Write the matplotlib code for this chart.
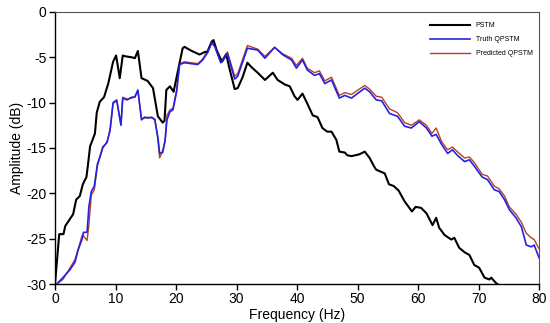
import numpy as np
import matplotlib.pyplot as plt

plt.rcParams['font.family'] = ['Liberation Sans', 'DejaVu Sans']
plt.rcParams['axes.unicode_minus'] = False

# PSTM (black)
pstm_f = [0, 0.7, 1.4, 1.7, 2.3, 3.0, 3.5, 4.1, 4.6, 5.2, 5.6, 5.8, 6.1, 6.6, 6.9,
          7.4, 8.1, 8.8, 9.6, 10.1, 10.7, 11.2, 11.7, 12.7, 13.2, 13.7, 14.3, 15.3,
          16.2, 17.0, 17.8, 18.1, 18.4, 19.0, 19.6, 21.1, 21.4, 22.6, 23.9, 24.8,
          25.2, 25.9, 26.2, 26.7, 27.6, 28.3, 28.9, 29.7, 30.2, 31.0, 31.8, 32.5,
          33.5, 34.7, 36.0, 36.8, 38.0, 38.8, 39.6, 40.1, 40.9, 41.7, 42.6, 43.4,
          44.2, 45.0, 45.7, 46.5, 47.0, 47.9, 48.3, 49.0, 50.3, 51.2, 52.0, 52.8,
          53.1, 54.5, 55.2, 56.0, 56.8, 57.8, 59.0, 59.6, 60.5, 61.4, 62.4, 63.0,
          63.5, 64.4, 65.5, 66.0, 66.8, 67.7, 68.5, 69.3, 70.1, 71.0, 71.8, 72.1,
          72.9, 73.8]
pstm_db = [-30, -24.5, -24.5, -23.6, -23.0, -22.3, -20.7, -20.3, -19.0, -18.2, -16.0,
           -14.8, -14.3, -13.4, -11.1, -9.9, -9.4, -7.9, -5.5, -4.8, -7.3, -4.8, -4.9,
           -5.0, -5.1, -4.3, -7.3, -7.6, -8.4, -11.5, -12.2, -12.0, -8.6, -8.2, -8.8,
           -4.0, -3.85, -4.3, -4.7, -4.4, -4.4, -3.3, -3.1, -4.2, -5.5, -4.7, -6.4,
           -8.5, -8.4, -7.2, -5.6, -6.1, -6.7, -7.5, -6.7, -7.5, -8.0, -8.2, -9.3,
           -9.7, -9.0, -10.1, -11.4, -11.6, -12.8, -13.2, -13.2, -14.1, -15.4, -15.5,
           -15.8, -15.9, -15.7, -15.4, -16.1, -17.1, -17.4, -17.8, -19.0, -19.2,
           -19.7, -20.9, -22.0, -21.5, -21.6, -22.2, -23.5, -22.7, -23.8, -24.6,
           -25.1, -24.9, -26.0, -26.5, -26.8, -27.9, -28.2, -29.3, -29.5, -29.3,
           -29.9, -30.3]

# Truth QPSTM (blue) and Predicted QPSTM (red) share the same frequencies
q_f = [0.3, 1.3, 2.5, 3.3, 3.8, 4.5, 4.7, 5.3, 5.6, 6.0, 6.5, 7.0, 7.4, 7.9, 8.6,
       9.1, 9.6, 10.2, 10.9, 11.2, 11.9, 12.7, 13.2, 13.7, 14.3, 14.8, 15.3, 16.0,
       16.5, 17.0, 17.3, 17.8, 18.2, 18.5, 19.0, 19.5, 20.1, 20.6, 21.4, 22.5, 23.6,
       24.4, 25.2, 25.9, 26.4, 27.4, 28.5, 29.7, 30.2, 31.8, 33.5, 34.7, 36.3, 37.6,
       39.1, 39.9, 40.9, 41.7, 42.9, 43.7, 44.6, 45.7, 47.0, 47.9, 49.0, 51.2, 52.0,
       53.1, 54.0, 55.3, 56.6, 57.8, 58.9, 60.2, 61.4, 62.3, 63.0, 63.9, 64.9, 65.7,
       66.5, 67.7, 68.5, 69.3, 70.6, 71.5, 72.6, 73.4, 74.3, 75.1, 76.2, 77.1, 77.9,
       78.7, 79.2, 80.0]
truth_db = [-30.0, -29.3, -28.4, -27.6, -26.3, -25.0, -24.3, -24.3, -21.5, -19.8,
            -19.2, -16.8, -16.0, -14.9, -14.4, -13.0, -10.0, -9.7, -12.5, -9.5, -9.7,
            -9.4, -9.4, -8.6, -11.9, -11.6, -11.7, -11.6, -11.9, -13.8, -15.6, -15.5,
            -14.1, -11.9, -11.0, -10.8, -8.8, -5.8, -5.6, -5.7, -5.8, -5.3, -4.5,
            -3.4, -3.8, -5.6, -4.6, -7.4, -7.1, -4.0, -4.2, -5.1, -3.9, -4.7, -5.3,
            -6.2, -5.3, -6.4, -7.0, -6.8, -7.9, -7.5, -9.5, -9.2, -9.5, -8.4, -8.8,
            -9.7, -9.8, -11.2, -11.5, -12.6, -12.8, -12.1, -12.8, -13.7, -13.5,
            -14.6, -15.6, -15.2, -15.8, -16.5, -16.3, -17.0, -18.2, -18.5, -19.6,
            -19.8, -20.7, -21.8, -22.7, -23.7, -25.7, -25.9, -25.7, -27.1]
pred_db = [-30.0, -29.5, -28.2, -27.3, -26.2, -24.6, -24.7, -25.2, -23.5, -20.2,
           -19.6, -17.0, -16.1, -15.0, -14.3, -13.1, -10.1, -9.8, -12.4, -9.4, -9.6,
           -9.5, -9.3, -8.7, -11.8, -11.7, -11.6, -11.7, -11.8, -14.0, -16.1, -15.3,
           -14.3, -11.4, -10.8, -10.6, -8.6, -5.7, -5.5, -5.6, -5.7, -5.2, -4.3,
           -3.2, -3.6, -5.5, -4.4, -7.1, -6.8, -3.7, -4.1, -4.9, -3.9, -4.6, -5.1,
           -5.9, -5.1, -6.2, -6.7, -6.5, -7.6, -7.2, -9.2, -8.9, -9.1, -8.1, -8.5,
           -9.3, -9.4, -10.7, -11.1, -12.2, -12.5, -11.9, -12.5, -13.4, -12.8,
           -14.3, -15.2, -14.9, -15.4, -16.1, -16.0, -16.6, -17.9, -18.1, -19.2,
           -19.5, -20.3, -21.5, -22.3, -23.2, -24.4, -24.9, -25.1, -26.1]

fig = plt.figure(figsize=(5.5, 3.23), dpi=100)
ax = fig.add_axes([0.1, 0.1207, 0.88, 0.8423])

ax.plot(pstm_f, pstm_db, color='black', lw=1.5, label='PSTM', zorder=3)
ax.plot(q_f, pred_db, color='#b5402a', lw=1.0, zorder=2)
ax.plot(q_f, truth_db, color='#2222e6', lw=1.2, label='Truth QPSTM', zorder=4)
ax.plot([], [], color='#b5402a', lw=1.0, label='Predicted QPSTM')

ax.set_xlim(0, 80)
ax.set_ylim(-30, 0)
ax.set_xticks(np.arange(0, 81, 10))
ax.set_yticks(np.arange(-30, 1, 5))
ax.tick_params(direction='out', length=4, width=1, labelsize=10, pad=2)
ax.tick_params(axis='x', top=False)
ax.tick_params(axis='y', right=False)
for s in ['left', 'bottom']:
    ax.spines[s].set_linewidth(1.0)
for s in ['top', 'right']:
    ax.spines[s].set_color('#555555')
    ax.spines[s].set_linewidth(0.8)

ax.set_xlabel('Frequency (Hz)', fontsize=10, labelpad=1)
ax.set_ylabel('Amplitude (dB)', fontsize=10, labelpad=2)

ax.legend(loc='upper right', frameon=False, fontsize=5, handlelength=5.8,
          handletextpad=0.8, labelspacing=1.0, bbox_to_anchor=(1.0, 0.985))

fig.savefig('out.png', dpi=100)
